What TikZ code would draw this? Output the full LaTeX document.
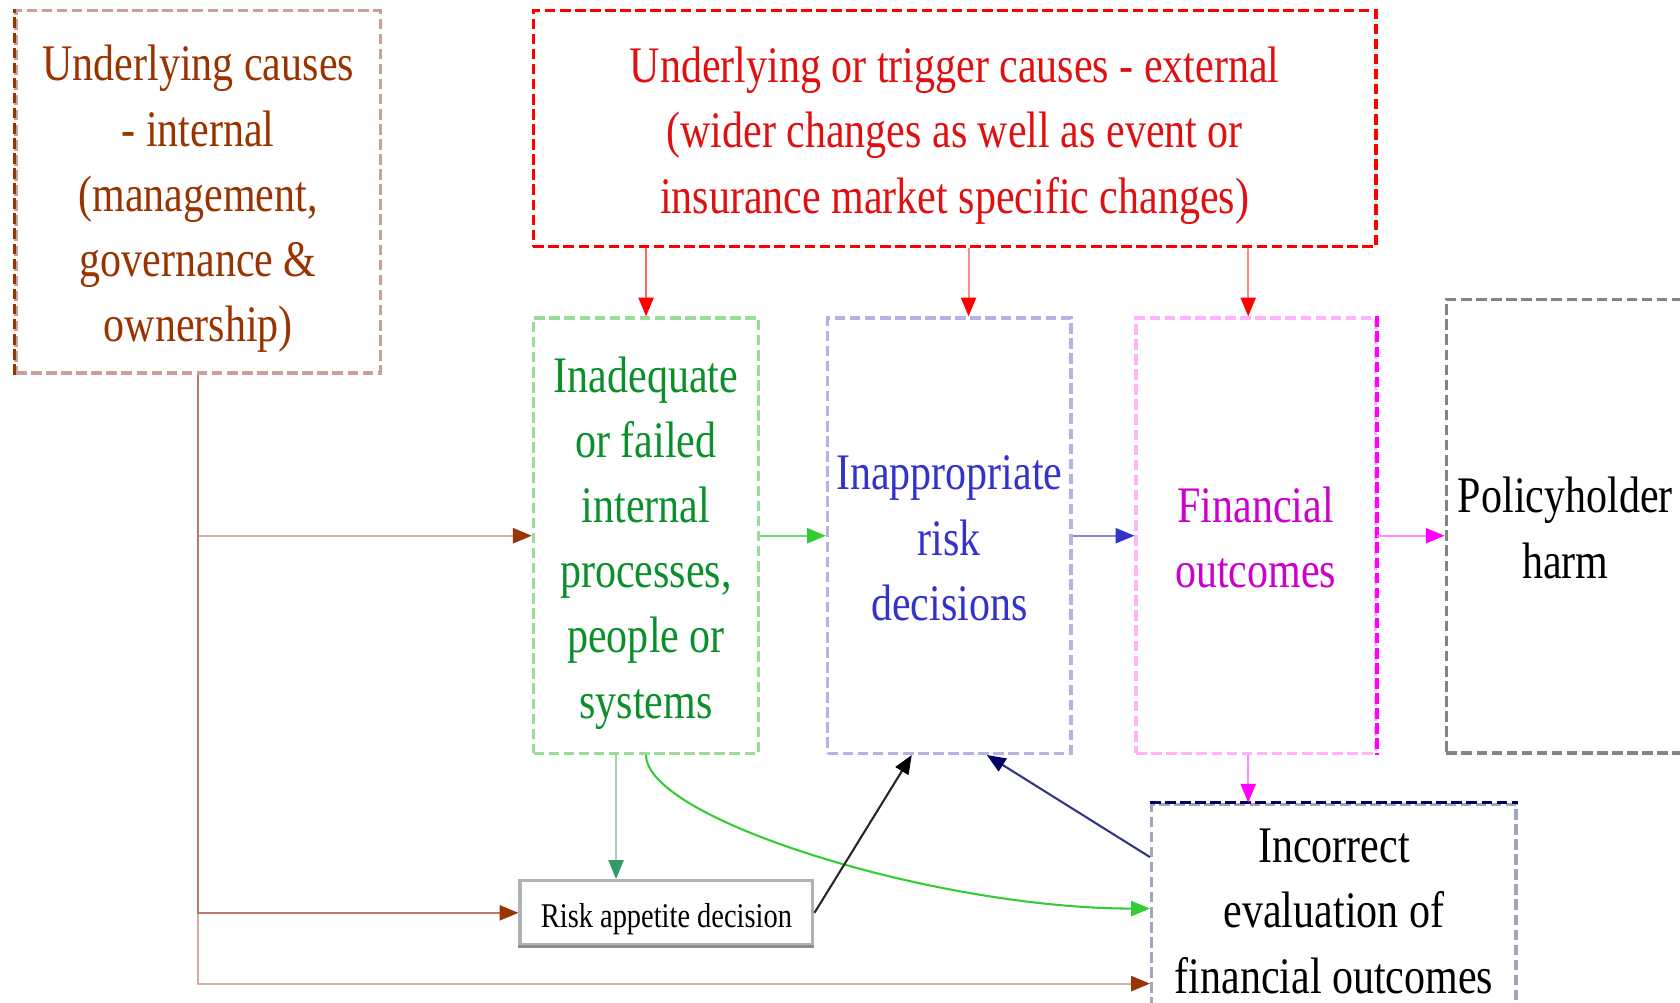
\documentclass[tikz,border=0pt]{standalone}
\usepackage{fontspec}
\setmainfont{Liberation Serif}
\usepackage{graphicx}
\usetikzlibrary{arrows.meta}
\definecolor{causeBrown}{HTML}{993300}
\definecolor{causeRose}{HTML}{C9A199}
\definecolor{trunkRose}{HTML}{B97A6E}
\definecolor{trunkPale}{HTML}{D4AEA6}
\definecolor{extText}{HTML}{E01010}
\definecolor{procGreen}{HTML}{0A8F2A}
\definecolor{procEdge}{HTML}{99DD99}
\definecolor{riskBlue}{HTML}{3333CC}
\definecolor{riskEdge}{HTML}{B3B3E6}
\definecolor{finText}{HTML}{CC00CC}
\definecolor{finMag}{HTML}{FF00FF}
\definecolor{finEdge}{HTML}{FFB3FF}
\definecolor{harmGray}{HTML}{7F887F}
\definecolor{evalNavy}{HTML}{000066}
\definecolor{evalEdge}{HTML}{A3A3BD}
\definecolor{limeArrow}{HTML}{33CC33}
\definecolor{seaArrow}{HTML}{339966}
\newcommand\squeeze[1]{\scalebox{0.82}[1]{\begin{tabular}{@{}c@{}}\rule{0pt}{15.5pt}#1\end{tabular}}}

\begin{document}
\begin{tikzpicture}[x=0.01cm, y=-0.01cm,
  box/.style={draw, line width=0.9pt, dash pattern=on 2.8pt off 1.2pt, inner sep=0pt,
    font=\fontsize{13.6}{17.3}\selectfont},
  edge/.style={line width=0.9pt, dash pattern=on 2.8pt off 1.2pt},
  headed/.style={-{Triangle[length=5pt,width=4pt,color=#1]}},
  link/.style={line width=0.55pt}]
  \useasboundingbox (0,0) rectangle (1568,936);
  \clip (0,0) rectangle (1568,936);

  % causes
  \node[box, causeRose, text=causeBrown, minimum width=3.40cm, minimum height=3.38cm] (internal) at (185,179)
    {\squeeze{Underlying causes\\- internal\\(management,\\governance \&\\ownership)}};
  \draw[edge, causeBrown] (internal.south west) -- (internal.north west);
  \node[box, red, text=extText, minimum width=7.86cm, minimum height=2.20cm] (external) at (891,120)
    {\squeeze{Underlying or trigger causes - external\\(wider changes as well as event or\\insurance market specific changes)}};

  % chain
  \node[box, procEdge, text=procGreen, minimum width=2.10cm, minimum height=4.06cm] (green) at (603,500)
    {\squeeze{Inadequate\\or failed\\internal\\processes,\\people or\\systems}};
  \node[box, riskEdge, text=riskBlue, minimum width=2.27cm, minimum height=4.06cm] (decide) at (886,500)
    {\squeeze{Inappropriate\\risk\\decisions}};
  \node[box, finEdge, text=finText, minimum width=2.23cm, minimum height=4.06cm] (fin) at (1172,500)
    {\squeeze{Financial\\outcomes}};
  \draw[edge, finMag] (fin.north east) -- (fin.south east);
  \node[box, harmGray, text=black, minimum width=2.22cm, minimum height=4.23cm] (harm) at (1461,491)
    {\squeeze{Policyholder\\harm}};
  \node[box, evalEdge, text=black, minimum width=3.40cm, minimum height=1.92cm] (eval) at (1245,848)
    {\squeeze{Incorrect\\evaluation of\\financial outcomes}};
  \draw[edge, evalNavy] (eval.north west) -- (eval.north east);
  \node[draw=gray!60, line width=0.9pt, inner sep=0pt, minimum width=2.73cm, minimum height=0.60cm,
    font=\fontsize{9.2}{11}\selectfont] (risk) at (622,852) {\scalebox{0.82}[1]{\rule{0pt}{9.6pt}Risk appetite decision}};
  \draw[gray!90, line width=0.9pt] (risk.south west) -- (risk.south east);

  \coordinate (feedB) at ([xshift=0.18cm]decide.north);
  \coordinate (feedF) at ([xshift=-0.07cm]fin.north);
  \coordinate (finOut) at ([xshift=-0.07cm]fin.south);
  \coordinate (appIn) at ([xshift=-0.28cm]green.south);
  \coordinate (blkEnd) at ([xshift=-0.35cm]decide.south);
  \coordinate (navEnd) at ([xshift=0.35cm]decide.south);
  \coordinate (navStart) at ([yshift=0.48cm]eval.west);
  \coordinate (lowIn) at ([yshift=-0.70cm]eval.west);

  % external feeds
  \draw[link, red!60, headed=red] (green.north |- external.south) -- (green.north);
  \draw[link, red!45, headed=red] (feedB |- external.south) -- (feedB);
  \draw[link, red!45, headed=red] (feedF |- external.south) -- (feedF);

  % internal feeds
  \draw[link, trunkPale, headed=causeBrown] (internal.south) |- (lowIn);
  \draw[link, trunkRose, headed=causeBrown] (internal.south) |- (risk.west);
  \draw[link, trunkPale, headed=causeBrown] (internal.south) |- (green.west);
  \draw[link, trunkRose] (internal.south) -- (internal.south |- risk.west);

  % main chain
  \draw[link, limeArrow!70, headed=limeArrow] (green.east) -- (decide.west);
  \draw[link, riskBlue!60, headed=riskBlue] (decide.east) -- (fin.west);
  \draw[link, finMag!45, headed=finMag] (fin.east) -- (fin.east -| harm.west);
  \draw[link, finMag!45, headed=finMag] (finOut) -- (finOut |- eval.north);

  % side links
  \draw[link, seaArrow!45, headed=seaArrow] (appIn) -- (appIn |- risk.north);
  \draw[link, limeArrow, headed=limeArrow] (green.south) .. controls +(0,60) and +(-200,0) .. (eval.west);
  \draw[link, black!85, headed=black] (risk.east) -- (blkEnd);
  \draw[link, evalNavy!80, headed=evalNavy] (navStart) -- (navEnd);
\end{tikzpicture}
\end{document}
